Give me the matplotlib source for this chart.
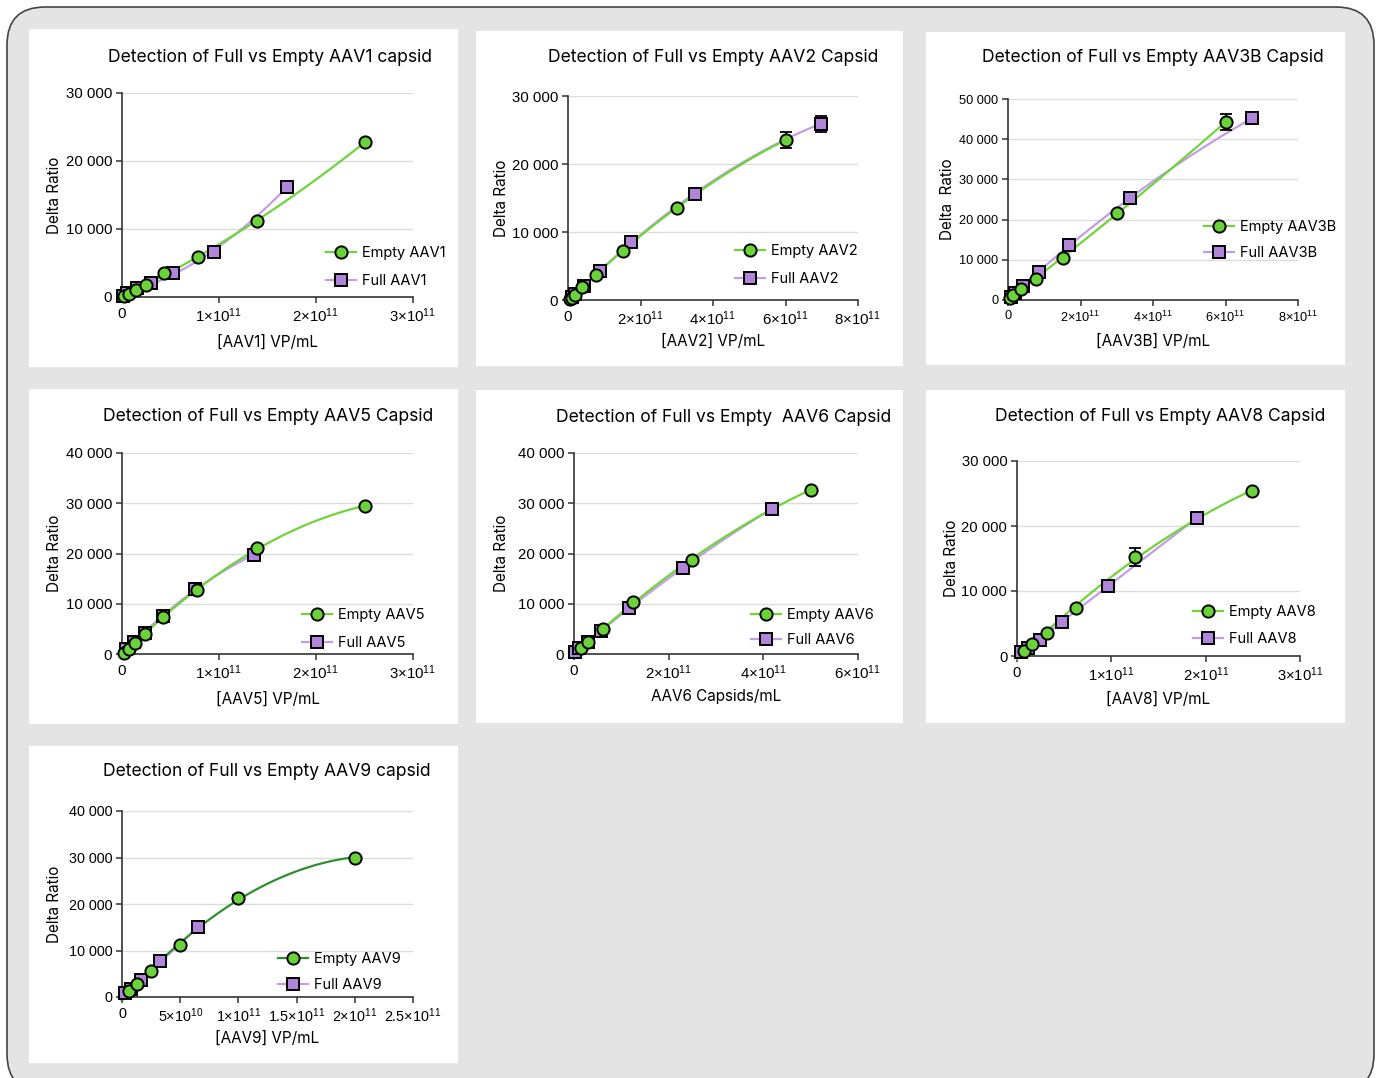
import numpy as np
import matplotlib
matplotlib.use("Agg")
import matplotlib.pyplot as plt
from matplotlib.patches import FancyBboxPatch, Rectangle

plt.rcParams['mathtext.fontset'] = 'custom'
plt.rcParams['mathtext.rm'] = 'Liberation Sans'
plt.rcParams['mathtext.it'] = 'Liberation Sans'
plt.rcParams['font.family'] = ['Liberation Sans', 'DejaVu Sans']

# ---- data (x in VP/mL, y = delta ratio) ----
aav1_empty_x = [0.02e11, 0.072e11, 0.141e11, 0.244e11, 0.433e11, 0.78e11, 1.39e11, 2.50e11]
aav1_empty_y = [150, 440, 1080, 1760, 3480, 5880, 11130, 22750]
aav1_full_x = [0.01e11, 0.048e11, 0.158e11, 0.295e11, 0.53e11, 0.945e11, 1.70e11]
aav1_full_y = [200, 540, 1280, 2010, 3480, 6570, 16220]

aav2_empty_x = [0.05e11, 0.1e11, 0.18e11, 0.386e11, 0.76e11, 1.51e11, 3.0e11, 6.0e11]
aav2_empty_y = [150, 350, 730, 1860, 3680, 7250, 13570, 23530]
aav2_empty_err = [0, 0, 0, 0, 0, 0, 0, 1150]
aav2_full_x = [0.1e11, 0.2e11, 0.44e11, 0.88e11, 1.75e11, 3.5e11, 6.97e11]
aav2_full_y = [400, 830, 2060, 4310, 8580, 15630, 25930]
aav2_full_err = [0, 0, 0, 0, 0, 0, 1180]

aav3b_empty_x = [0.05e11, 0.13e11, 0.35e11, 0.76e11, 1.51e11, 3.0e11, 6.0e11]
aav3b_empty_y = [500, 1240, 2720, 5120, 10480, 21610, 44230]
aav3b_empty_err = [0, 0, 0, 0, 0, 0, 1980]
aav3b_full_x = [0.07e11, 0.185e11, 0.405e11, 0.845e11, 1.68e11, 3.37e11, 6.73e11]
aav3b_full_y = [830, 1810, 3470, 6850, 13780, 25250, 45220]
aav3b_full_err = [0, 0, 0, 0, 0, 0, 700]

aav5_empty_x = [0.02e11, 0.075e11, 0.13e11, 0.238e11, 0.427e11, 0.776e11, 1.39e11, 2.50e11]
aav5_empty_y = [200, 990, 2110, 4040, 7360, 12730, 21010, 29450]
aav5_full_x = [0.04e11, 0.12e11, 0.235e11, 0.42e11, 0.75e11, 1.36e11]
aav5_full_y = [920, 2390, 4100, 7500, 12930, 19700]

aav6_empty_x = [0.155e11, 0.30e11, 0.613e11, 1.24e11, 2.49e11, 5.0e11]
aav6_empty_y = [1130, 2330, 5040, 10280, 18770, 32700]
aav6_full_x = [0.03e11, 0.107e11, 0.29e11, 0.58e11, 1.16e11, 2.30e11, 4.18e11]
aav6_full_y = [300, 1130, 2330, 4640, 9090, 17110, 28920]

aav8_empty_x = [0.074e11, 0.155e11, 0.314e11, 0.628e11, 1.25e11, 2.495e11]
aav8_empty_y = [820, 1800, 3490, 7380, 15270, 25450]
aav8_empty_err = [0, 0, 0, 0, 1410, 0]
aav8_full_x = [0.04e11, 0.12e11, 0.24e11, 0.48e11, 0.96e11, 1.913e11]
aav8_full_y = [600, 1290, 2510, 5230, 10810, 21300]

aav9_empty_x = [0.063e11, 0.126e11, 0.252e11, 0.501e11, 1.0e11, 2.0e11]
aav9_empty_y = [1350, 2790, 5570, 11200, 21340, 30000]
aav9_empty_err = [0, 0, 0, 0, 700, 0]
aav9_full_x = [0.025e11, 0.075e11, 0.166e11, 0.329e11, 0.656e11]
aav9_full_y = [850, 1780, 3640, 7710, 15130]

titles = ["Detection of Full vs Empty AAV1 capsid",
          "Detection of Full vs Empty AAV2 Capsid",
          "Detection of Full vs Empty AAV3B Capsid",
          "Detection of Full vs Empty AAV5 Capsid",
          "Detection of Full vs Empty  AAV6 Capsid",
          "Detection of Full vs Empty AAV8 Capsid",
          "Detection of Full vs Empty AAV9 capsid"]
xlabels = ["[AAV1] VP/mL", "[AAV2] VP/mL", "[AAV3B] VP/mL", "[AAV5] VP/mL",
           "AAV6 Capsids/mL", "[AAV8] VP/mL", "[AAV9] VP/mL"]
ylabels = ["Delta Ratio", "Delta Ratio", "Delta  Ratio", "Delta Ratio",
           "Delta Ratio", "Delta Ratio", "Delta Ratio"]
names = ["AAV1", "AAV2", "AAV3B", "AAV5", "AAV6", "AAV8", "AAV9"]
x_ticks = [[0, 1e11, 2e11, 3e11], [0, 2e11, 4e11, 6e11, 8e11], [0, 2e11, 4e11, 6e11, 8e11],
           [0, 1e11, 2e11, 3e11], [0, 2e11, 4e11, 6e11], [0, 1e11, 2e11, 3e11],
           [0, 0.5e11, 1e11, 1.5e11, 2e11, 2.5e11]]
x_ticklabels = [["0", "1×10^{11}", "2×10^{11}", "3×10^{11}"],
                ["0", "2×10^{11}", "4×10^{11}", "6×10^{11}", "8×10^{11}"],
                ["0", "2×10^{11}", "4×10^{11}", "6×10^{11}", "8×10^{11}"],
                ["0", "1×10^{11}", "2×10^{11}", "3×10^{11}"],
                ["0", "2×10^{11}", "4×10^{11}", "6×10^{11}"],
                ["0", "1×10^{11}", "2×10^{11}", "3×10^{11}"],
                ["0", "5×10^{10}", "1×10^{11}", "1.5×10^{11}", "2×10^{11}", "2.5×10^{11}"]]
y_ticks = [[0, 10000, 20000, 30000], [0, 10000, 20000, 30000],
           [0, 10000, 20000, 30000, 40000, 50000], [0, 10000, 20000, 30000, 40000],
           [0, 10000, 20000, 30000, 40000], [0, 10000, 20000, 30000],
           [0, 10000, 20000, 30000, 40000]]

series = [
    (aav1_empty_x, aav1_empty_y, None, aav1_full_x, aav1_full_y, None),
    (aav2_empty_x, aav2_empty_y, aav2_empty_err, aav2_full_x, aav2_full_y, aav2_full_err),
    (aav3b_empty_x, aav3b_empty_y, aav3b_empty_err, aav3b_full_x, aav3b_full_y, aav3b_full_err),
    (aav5_empty_x, aav5_empty_y, None, aav5_full_x, aav5_full_y, None),
    (aav6_empty_x, aav6_empty_y, None, aav6_full_x, aav6_full_y, None),
    (aav8_empty_x, aav8_empty_y, aav8_empty_err, aav8_full_x, aav8_full_y, None),
    (aav9_empty_x, aav9_empty_y, aav9_empty_err, aav9_full_x, aav9_full_y, None),
]

# ---- layout in pixels ----
W, H = 1383, 1078
# axes box (x0, top, x1, bottom), white panel, title (cx, y), xlabel y, ylabel x, legend (hx, hy, dy), tick size
layout = [
    ((122, 93, 413, 297), (29, 29, 458, 367), (270, 57), 342, 55, (341, 253, 27), 10.8),
    ((568, 96, 858, 300), (476, 31, 903, 366), (713, 57), 341, 502, (750, 251, 27), 10.8),
    ((1008, 99, 1298, 300), (926, 32, 1345, 365), (1153, 57), 341, 948, (1219, 227, 25), 9.2),
    ((122, 453, 413, 654), (29, 389, 458, 724), (268, 416), 699, 55, (317, 615, 27), 10.8),
    ((574, 453, 858, 654), (476, 390, 903, 723), (724, 417), 697, 501, (766, 615, 24), 10.8),
    ((1017, 461, 1300, 656), (926, 390, 1345, 723), (1160, 416), 699, 951, (1208, 612, 26), 10.6),
    ((122, 811, 413, 997), (29, 746, 458, 1063), (267, 772), 1038, 55, (293, 959, 25), 10.4),
]

GREEN = '#6ad33a'
GREEN_LINE = '#6fd43a'
PURPLE = '#b185d9'
PURPLE_LINE = '#c49de6'
TEXT_FONT = ['Inter', 'DejaVu Sans']

fig = plt.figure(figsize=(W / 100, H / 100), dpi=100)
fig.patch.set_facecolor('white')

bg = fig.add_axes([0, 0, 1, 1])
bg.set_xlim(0, W)
bg.set_ylim(H, 0)
bg.axis('off')
bg.add_patch(FancyBboxPatch((7, 7), 1367, 1085, boxstyle="round,pad=0,rounding_size=38",
                            facecolor='#e4e4e4', edgecolor='#444444', linewidth=1.2))
for lay in layout:
    px0, py0, px1, py1 = lay[1]
    bg.add_patch(Rectangle((px0, py0), px1 - px0, py1 - py0, facecolor='white', edgecolor='none'))


def fig_xy(x, y):
    return x / W, 1 - y / H


for i, lay in enumerate(layout):
    (ax0, ay0, ax1, ay1), _, (tcx, tcy), xly, ylx, (hx, hy, dy), tsize = lay
    ex, ey, eerr, fx, fy, ferr = series[i]
    ax = fig.add_axes([ax0 / W, 1 - ay1 / H, (ax1 - ax0) / W, (ay1 - ay0) / H])
    ax.set_xlim(0, x_ticks[i][-1])
    ax.set_ylim(0, y_ticks[i][-1])

    for yt in y_ticks[i][1:]:
        ax.axhline(yt, color='#dcdcdc', lw=1.0, zorder=0)

    eline = '#2f8f2f' if i == 6 else GREEN_LINE
    # fitted curves
    for xs, ys, col in ((fx, fy, PURPLE_LINE), (ex, ey, eline)):
        xa = np.array(xs) / 1e11
        c = np.polyfit(xa, np.array(ys), 2)
        xx = np.linspace(0, xa.max(), 120)
        ax.plot(xx * 1e11, np.polyval(c, xx), color=col, lw=1.6, zorder=2, clip_on=False)

    if ferr is not None:
        ax.errorbar(fx, fy, yerr=ferr, fmt='none', ecolor='black', elinewidth=1.3,
                    capsize=4.5, capthick=1.3, zorder=3, clip_on=False)
    if eerr is not None:
        ax.errorbar(ex, ey, yerr=eerr, fmt='none', ecolor='black', elinewidth=1.3,
                    capsize=4.5, capthick=1.3, zorder=3, clip_on=False)
    ax.plot(fx, fy, 's', ms=8.2, mfc=PURPLE, mec='black', mew=1.4, zorder=4, clip_on=False)
    ax.plot(ex, ey, 'o', ms=8.8, mfc=GREEN, mec='black', mew=1.4, zorder=5, clip_on=False)

    # legend handles
    h1, = ax.plot([], [], '-o', color=eline, ms=8.8, mfc=GREEN, mec='black', mew=1.4, lw=1.6)
    h2, = ax.plot([], [], '-s', color=PURPLE_LINE, ms=8.2, mfc=PURPLE, mec='black', mew=1.4, lw=1.6)
    fs = 10.5
    fpx = fs * 100 / 72
    lx, ly = fig_xy(hx - fpx, hy - 0.45 * fpx)
    ax.legend([h1, h2], ["Empty " + names[i], "Full " + names[i]], loc='upper left',
              bbox_to_anchor=(lx, ly), bbox_transform=fig.transFigure, frameon=False,
              borderpad=0, borderaxespad=0, handlelength=2.0, handletextpad=0.45,
              labelspacing=max(0.1, (dy - 0.93 * fpx) / fpx),
              prop={'family': TEXT_FONT, 'size': fs})

    ax.set_xticks(x_ticks[i])
    ax.set_xticklabels([t if t == "0" else "$" + t + "$" for t in x_ticklabels[i]])
    ax.set_yticks(y_ticks[i])
    ax.set_yticklabels(["{:,}".format(v).replace(',', ' ') for v in y_ticks[i]])
    ax.tick_params(axis='both', direction='out', length=4, width=1.1, color='#333333',
                   labelsize=tsize, pad=3)
    ax.patch.set_alpha(0)
    for s in ('top', 'right'):
        ax.spines[s].set_visible(False)
    for s in ('left', 'bottom'):
        ax.spines[s].set_color('#333333')
        ax.spines[s].set_linewidth(1.2)

    tx, ty = fig_xy(tcx, tcy)
    fig.text(tx, ty, titles[i], ha='center', va='center', fontsize=12.6, family=TEXT_FONT)
    cx, cy = fig_xy((ax0 + ax1) / 2, xly)
    fig.text(cx, cy, xlabels[i], ha='center', va='center', fontsize=11, family=TEXT_FONT)
    yx, yy = fig_xy(ylx, (ay0 + ay1) / 2)
    fig.text(yx, yy, ylabels[i], ha='center', va='center', rotation=90, fontsize=11,
             family=TEXT_FONT)

fig.savefig('out.png', dpi=100)
